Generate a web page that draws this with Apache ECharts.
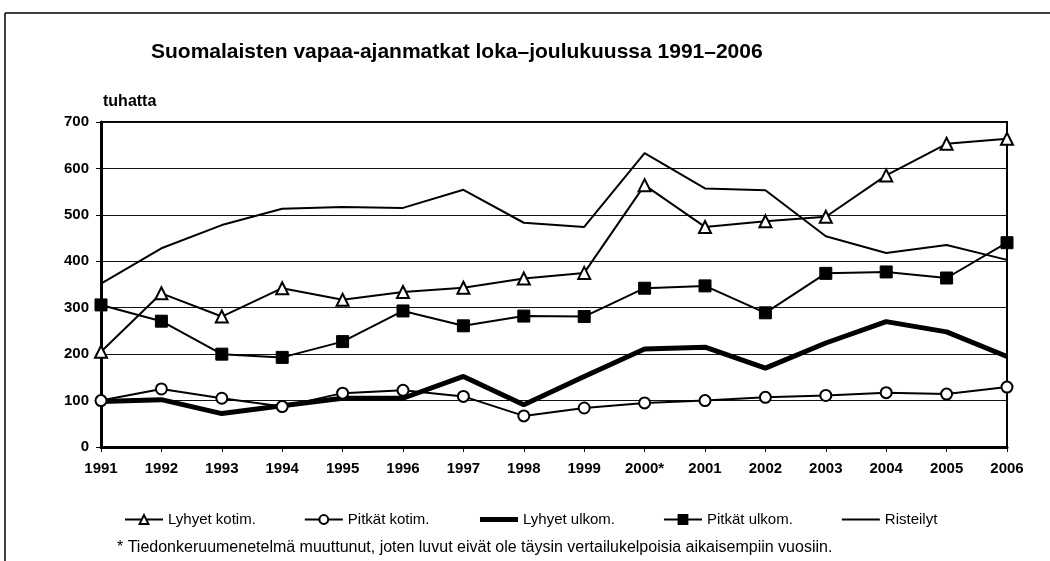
<!DOCTYPE html>
<html>
<head>
<meta charset="utf-8">
<script src="https://cdn.jsdelivr.net/npm/echarts@6/dist/echarts.min.js"></script>
<style>
  html, body { margin: 0; padding: 0; background: #fff; }
  #main { width: 1050px; height: 561px; }
</style>
</head>
<body>
<div id="main"></div>
<script>
// data (thousands)
let years = ["1991", "1992", "1993", "1994", "1995", "1996", "1997", "1998",
    "1999", "2000*", "2001", "2002", "2003", "2004", "2005", "2006"];
let lyhyetKotim = [205, 331, 281, 342, 317, 334, 343, 363, 375, 564, 474, 486, 496, 585, 653, 664];
let pitkatKotim = [100, 125, 105, 87, 116, 122, 109, 67, 84, 95, 100, 107, 111, 117, 114, 129];
let lyhyetUlkom = [98, 102, 72, 89, 105, 105, 152, 91, 152, 211, 215, 170, 224, 270, 248, 195];
let pitkatUlkom = [306, 271, 200, 193, 227, 293, 261, 282, 281, 342, 347, 289, 374, 377, 364, 440];
let risteilyt = [352, 428, 478, 513, 517, 515, 554, 483, 474, 633, 557, 553, 454, 418, 435, 403];

let chartDom = document.getElementById("main");
let myChart = echarts.init(chartDom);
let font = "'Liberation Sans', Arial, sans-serif";

function lineSeries(name, data, opts) {
    return Object.assign({
        name: name,
        type: "line",
        data: data,
        animation: false,
        lineStyle: { color: "#000", width: 2 },
        itemStyle: { color: "#fff", borderColor: "#000", borderWidth: 2 },
        symbol: "none",
        symbolSize: 10,
    }, opts);
}

let option = {
    backgroundColor: "#fff",
    textStyle: { fontFamily: font, color: "#000" },
    title: [
        {
            text: "Suomalaisten vapaa-ajanmatkat loka–joulukuussa 1991–2006",
            left: 146,
            top: 37,
            textStyle: { fontSize: 21, fontWeight: "bold", fontFamily: font, color: "#000" },
        },
        {
            text: "tuhatta",
            left: 98,
            top: 89,
            textStyle: { fontSize: 16, fontWeight: "bold", fontFamily: font, color: "#000" },
        },
        {
            text: "* Tiedonkeruumenetelmä muuttunut, joten luvut eivät ole täysin vertailukelpoisia aikaisempiin vuosiin.",
            left: 112,
            top: 535,
            textStyle: { fontSize: 16, fontWeight: "normal", fontFamily: font, color: "#000" },
        },
    ],
    legend: {
        left: 119,
        top: 507,
        itemGap: 48,
        itemWidth: 38,
        itemHeight: 11,
        textStyle: { fontSize: 15, fontFamily: font, color: "#000" },
        data: [
            { name: "Lyhyet kotim.", lineStyle: { width: 2 } },
            { name: "Pitkät kotim.", lineStyle: { width: 2 } },
            { name: "Lyhyet ulkom.", lineStyle: { width: 5 }, itemStyle: { opacity: 0 } },
            { name: "Pitkät ulkom.", lineStyle: { width: 2 } },
            { name: "Risteilyt", lineStyle: { width: 2 }, itemStyle: { opacity: 0 } },
        ],
    },
    grid: {
        left: 101,
        right: 43,
        top: 122,
        bottom: 114,
        show: true,
        borderColor: "#000",
        borderWidth: 2,
    },
    xAxis: {
        type: "category",
        data: years,
        boundaryGap: false,
        axisLine: { lineStyle: { color: "#000", width: 3 } },
        axisTick: { show: true, alignWithLabel: true, length: 5, lineStyle: { color: "#000", width: 1 } },
        axisLabel: { fontSize: 15, fontWeight: "bold", color: "#000", margin: 14 },
    },
    yAxis: {
        type: "value",
        min: 0,
        max: 700,
        interval: 100,
        axisLine: { show: true, lineStyle: { color: "#000", width: 3 } },
        axisTick: { show: true, length: 5, lineStyle: { color: "#000" } },
        axisLabel: { fontSize: 15, fontWeight: "bold", color: "#000", margin: 12 },
        splitLine: { lineStyle: { color: "#111", width: 1 } },
    },
    series: [
        lineSeries("Lyhyet kotim.", lyhyetKotim, { symbol: "triangle", symbolSize: 12 }),
        lineSeries("Pitkät kotim.", pitkatKotim, { symbol: "circle", symbolSize: 11 }),
        lineSeries("Lyhyet ulkom.", lyhyetUlkom, {
            lineStyle: { color: "#000", width: 5 },
            itemStyle: { color: "#000" },
        }),
        lineSeries("Pitkät ulkom.", pitkatUlkom, {
            symbol: "rect",
            symbolSize: 12,
            itemStyle: { color: "#000", borderColor: "#000", borderWidth: 1 },
        }),
        lineSeries("Risteilyt", risteilyt, { itemStyle: { color: "#000" } }),
    ],
    graphic: {
        elements: [
            { type: "line", shape: { x1: 5, y1: 13, x2: 1050, y2: 13 }, style: { stroke: "#000", lineWidth: 1.5 } },
            { type: "line", shape: { x1: 5, y1: 13, x2: 5, y2: 561 }, style: { stroke: "#000", lineWidth: 1.5 } },
        ],
    },
};

myChart.setOption(option);
</script>
</body>
</html>
